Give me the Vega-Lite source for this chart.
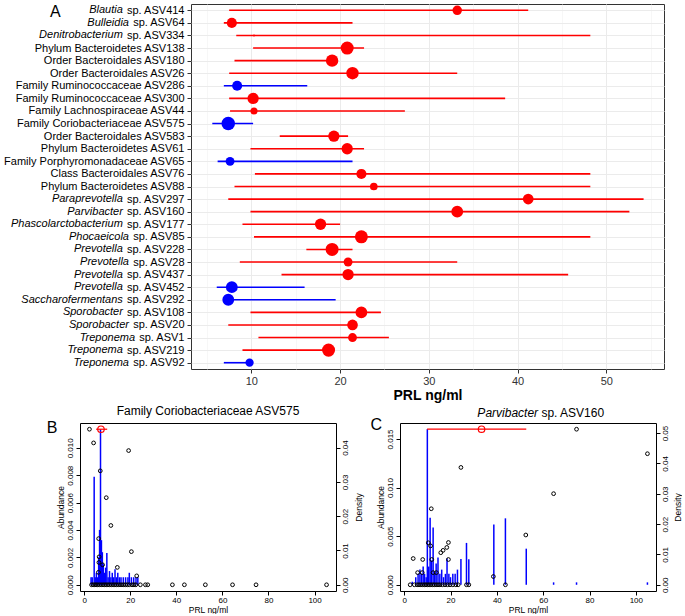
{
  "$schema": "https://vega.github.io/schema/vega-lite/v6.json",
  "padding": {"left": 1, "top": 3, "right": 0, "bottom": 0},
  "config": {
    "font": "Liberation Sans",
    "view": {"stroke": null},
    "axis": {"labelFont": "Liberation Sans", "titleFont": "Liberation Sans", "labelOverlap": false},
    "title": {"font": "Liberation Sans"},
    "text": {"font": "Liberation Sans"}
  },
  "datasets": {
    "taxa": [
      {"taxon": "Blautia sp. ASV414", "genus": "Blautia", "rest": "sp. ASV414", "lo": 7.5, "prl": 33.2, "hi": 41.2, "effect": 0.49, "dir": "pos"},
      {"taxon": "Bulleidia sp. ASV64", "genus": "Bulleidia", "rest": "sp. ASV64", "lo": 6.9, "prl": 7.8, "hi": 21.4, "effect": 0.55, "dir": "pos"},
      {"taxon": "Denitrobacterium sp. ASV334", "genus": "Denitrobacterium", "rest": "sp. ASV334", "lo": 8.3, "prl": 10.3, "hi": 48.2, "effect": 0.02, "dir": "pos"},
      {"taxon": "Phylum Bacteroidetes ASV138", "genus": "", "rest": "Phylum Bacteroidetes ASV138", "lo": 10.2, "prl": 20.8, "hi": 22.7, "effect": 0.92, "dir": "pos"},
      {"taxon": "Order Bacteroidales ASV180", "genus": "", "rest": "Order Bacteroidales ASV180", "lo": 8.1, "prl": 19.1, "hi": 19.3, "effect": 0.84, "dir": "pos"},
      {"taxon": "Order Bacteroidales ASV26", "genus": "", "rest": "Order Bacteroidales ASV26", "lo": 7.5, "prl": 21.4, "hi": 33.2, "effect": 0.84, "dir": "pos"},
      {"taxon": "Family Ruminococcaceae ASV286", "genus": "", "rest": "Family Ruminococcaceae ASV286", "lo": 6.9, "prl": 8.4, "hi": 16.3, "effect": 0.55, "dir": "neg"},
      {"taxon": "Family Ruminococcaceae ASV300", "genus": "", "rest": "Family Ruminococcaceae ASV300", "lo": 7.5, "prl": 10.2, "hi": 38.6, "effect": 0.69, "dir": "pos"},
      {"taxon": "Family Lachnospiraceae ASV44", "genus": "", "rest": "Family Lachnospiraceae ASV44", "lo": 7.6, "prl": 10.3, "hi": 27.3, "effect": 0.27, "dir": "pos"},
      {"taxon": "Family Coriobacteriaceae ASV575", "genus": "", "rest": "Family Coriobacteriaceae ASV575", "lo": 5.6, "prl": 7.4, "hi": 10.2, "effect": 1.0, "dir": "neg"},
      {"taxon": "Order Bacteroidales ASV583", "genus": "", "rest": "Order Bacteroidales ASV583", "lo": 13.2, "prl": 19.3, "hi": 20.9, "effect": 0.69, "dir": "pos"},
      {"taxon": "Phylum Bacteroidetes ASV61", "genus": "", "rest": "Phylum Bacteroidetes ASV61", "lo": 9.9, "prl": 20.8, "hi": 22.7, "effect": 0.69, "dir": "pos"},
      {"taxon": "Family Porphyromonadaceae ASV65", "genus": "", "rest": "Family Porphyromonadaceae ASV65", "lo": 6.2, "prl": 7.6, "hi": 21.4, "effect": 0.43, "dir": "neg"},
      {"taxon": "Class Bacteroidales ASV76", "genus": "", "rest": "Class Bacteroidales ASV76", "lo": 10.4, "prl": 22.4, "hi": 48.2, "effect": 0.55, "dir": "pos"},
      {"taxon": "Phylum Bacteroidetes ASV88", "genus": "", "rest": "Phylum Bacteroidetes ASV88", "lo": 8.1, "prl": 23.8, "hi": 48.2, "effect": 0.32, "dir": "pos"},
      {"taxon": "Paraprevotella sp. ASV297", "genus": "Paraprevotella", "rest": "sp. ASV297", "lo": 7.4, "prl": 41.2, "hi": 54.2, "effect": 0.62, "dir": "pos"},
      {"taxon": "Parvibacter sp. ASV160", "genus": "Parvibacter", "rest": "sp. ASV160", "lo": 9.9, "prl": 33.2, "hi": 52.6, "effect": 0.76, "dir": "pos"},
      {"taxon": "Phascolarctobacterium sp. ASV177", "genus": "Phascolarctobacterium", "rest": "sp. ASV177", "lo": 9.0, "prl": 17.8, "hi": 20.0, "effect": 0.69, "dir": "pos"},
      {"taxon": "Phocaeicola sp. ASV85", "genus": "Phocaeicola", "rest": "sp. ASV85", "lo": 10.3, "prl": 22.4, "hi": 48.2, "effect": 0.92, "dir": "pos"},
      {"taxon": "Prevotella sp. ASV228", "genus": "Prevotella", "rest": "sp. ASV228", "lo": 16.2, "prl": 19.1, "hi": 21.4, "effect": 0.92, "dir": "pos"},
      {"taxon": "Prevotella sp. ASV28", "genus": "Prevotella", "rest": "sp. ASV28", "lo": 8.7, "prl": 20.9, "hi": 33.2, "effect": 0.43, "dir": "pos"},
      {"taxon": "Prevotella sp. ASV437", "genus": "Prevotella", "rest": "sp. ASV437", "lo": 13.4, "prl": 20.9, "hi": 45.7, "effect": 0.69, "dir": "pos"},
      {"taxon": "Prevotella sp. ASV452", "genus": "Prevotella", "rest": "sp. ASV452", "lo": 6.1, "prl": 7.8, "hi": 16.0, "effect": 0.76, "dir": "neg"},
      {"taxon": "Saccharofermentans sp. ASV292", "genus": "Saccharofermentans", "rest": "sp. ASV292", "lo": 7.2, "prl": 7.4, "hi": 19.5, "effect": 0.76, "dir": "neg"},
      {"taxon": "Sporobacter sp. ASV108", "genus": "Sporobacter", "rest": "sp. ASV108", "lo": 9.9, "prl": 22.4, "hi": 24.6, "effect": 0.76, "dir": "pos"},
      {"taxon": "Sporobacter sp. ASV20", "genus": "Sporobacter", "rest": "sp. ASV20", "lo": 7.4, "prl": 21.4, "hi": 21.5, "effect": 0.62, "dir": "pos"},
      {"taxon": "Treponema sp. ASV1", "genus": "Treponema", "rest": "sp. ASV1", "lo": 10.8, "prl": 21.4, "hi": 25.5, "effect": 0.43, "dir": "pos"},
      {"taxon": "Treponema sp. ASV219", "genus": "Treponema", "rest": "sp. ASV219", "lo": 9.0, "prl": 18.7, "hi": 18.8, "effect": 0.92, "dir": "pos"},
      {"taxon": "Treponema sp. ASV92", "genus": "Treponema", "rest": "sp. ASV92", "lo": 6.9, "prl": 9.8, "hi": 9.9, "effect": 0.37, "dir": "neg"}
    ],
    "bPoints": [
      {"prl": 2.3, "abundance": 0.01136}, {"prl": 4.1, "abundance": 0.01036}, {"prl": 19.3, "abundance": 0.0098},
      {"prl": 7.0, "abundance": 0.00832}, {"prl": 9.6, "abundance": 0.00636}, {"prl": 11.6, "abundance": 0.00433},
      {"prl": 6.3, "abundance": 0.00337}, {"prl": 20.5, "abundance": 0.00242}, {"prl": 6.5, "abundance": 0.00204},
      {"prl": 6.4, "abundance": 0.00163}, {"prl": 8.0, "abundance": 0.00146}, {"prl": 14.4, "abundance": 0.00127},
      {"prl": 6.2, "abundance": 0.00091}, {"prl": 22.8, "abundance": 0.00065},
      {"prl": 3.2, "abundance": 0}, {"prl": 3.9, "abundance": 0}, {"prl": 4.6, "abundance": 0}, {"prl": 5.2, "abundance": 0},
      {"prl": 5.8, "abundance": 0}, {"prl": 6.6, "abundance": 0}, {"prl": 7.4, "abundance": 0}, {"prl": 8.2, "abundance": 0},
      {"prl": 8.9, "abundance": 0}, {"prl": 9.6, "abundance": 0}, {"prl": 10.3, "abundance": 0}, {"prl": 11.0, "abundance": 0},
      {"prl": 11.8, "abundance": 0}, {"prl": 12.6, "abundance": 0}, {"prl": 13.3, "abundance": 0}, {"prl": 14.0, "abundance": 0},
      {"prl": 14.8, "abundance": 0}, {"prl": 15.6, "abundance": 0}, {"prl": 16.4, "abundance": 0}, {"prl": 17.2, "abundance": 0},
      {"prl": 18.0, "abundance": 0}, {"prl": 18.8, "abundance": 0}, {"prl": 19.6, "abundance": 0}, {"prl": 20.8, "abundance": 0},
      {"prl": 21.6, "abundance": 0}, {"prl": 22.4, "abundance": 0}, {"prl": 24.4, "abundance": 0}, {"prl": 26.6, "abundance": 0},
      {"prl": 27.6, "abundance": 0}, {"prl": 38.3, "abundance": 0}, {"prl": 43.5, "abundance": 0}, {"prl": 52.6, "abundance": 0},
      {"prl": 64.4, "abundance": 0}, {"prl": 74.6, "abundance": 0}, {"prl": 105.2, "abundance": 0}
    ],
    "bDens": [
      {"prl": 3.0, "density": 0.0022}, {"prl": 3.5, "density": 0.0022}, {"prl": 4.35, "density": 0.0315},
      {"prl": 4.8, "density": 0.0022}, {"prl": 5.3, "density": 0.0035}, {"prl": 5.8, "density": 0.0022},
      {"prl": 6.3, "density": 0.008}, {"prl": 6.7, "density": 0.016}, {"prl": 7.1, "density": 0.0453},
      {"prl": 7.5, "density": 0.013}, {"prl": 7.9, "density": 0.0095}, {"prl": 8.3, "density": 0.006},
      {"prl": 8.8, "density": 0.0035}, {"prl": 9.3, "density": 0.005}, {"prl": 9.85, "density": 0.0093},
      {"prl": 10.4, "density": 0.0022}, {"prl": 11.0, "density": 0.004}, {"prl": 11.6, "density": 0.0022},
      {"prl": 12.2, "density": 0.0035}, {"prl": 12.8, "density": 0.0022}, {"prl": 13.4, "density": 0.0045},
      {"prl": 14.0, "density": 0.0022}, {"prl": 14.6, "density": 0.0035}, {"prl": 15.3, "density": 0.0022},
      {"prl": 16.0, "density": 0.0022}, {"prl": 17.0, "density": 0.0022}, {"prl": 18.0, "density": 0.0022},
      {"prl": 19.0, "density": 0.0022}, {"prl": 19.6, "density": 0.0035}, {"prl": 20.5, "density": 0.0022},
      {"prl": 21.5, "density": 0.0022}, {"prl": 22.5, "density": 0.0022}, {"prl": 23.3, "density": 0.0022}
    ],
    "bRed": [{"lo": 5.2, "hi": 10.0, "prl": 7.3, "abundance": 0.01136}],
    "bLetter": [{"prl": -13.9, "abundance": 0.01143, "label": "B"}],
    "cPoints": [
      {"prl": 74.4, "abundance": 0.016}, {"prl": 105.0, "abundance": 0.01348}, {"prl": 24.5, "abundance": 0.01207},
      {"prl": 64.5, "abundance": 0.00937}, {"prl": 11.7, "abundance": 0.00782}, {"prl": 52.5, "abundance": 0.00512},
      {"prl": 10.4, "abundance": 0.00432}, {"prl": 11.4, "abundance": 0.004}, {"prl": 19.1, "abundance": 0.00435},
      {"prl": 18.4, "abundance": 0.00384}, {"prl": 16.8, "abundance": 0.00354}, {"prl": 15.8, "abundance": 0.0033},
      {"prl": 3.9, "abundance": 0.0027}, {"prl": 8.0, "abundance": 0.0026}, {"prl": 11.9, "abundance": 0.0026},
      {"prl": 19.1, "abundance": 0.0026}, {"prl": 5.8, "abundance": 0.00125}, {"prl": 7.8, "abundance": 0.00125},
      {"prl": 12.5, "abundance": 0.00125}, {"prl": 13.9, "abundance": 0.00125}, {"prl": 38.5, "abundance": 0.00085},
      {"prl": 2.6, "abundance": 0}, {"prl": 4.4, "abundance": 0}, {"prl": 5.6, "abundance": 0}, {"prl": 6.4, "abundance": 0},
      {"prl": 7.2, "abundance": 0}, {"prl": 8.0, "abundance": 0}, {"prl": 8.8, "abundance": 0}, {"prl": 9.4, "abundance": 0},
      {"prl": 10.1, "abundance": 0}, {"prl": 10.8, "abundance": 0}, {"prl": 11.5, "abundance": 0}, {"prl": 12.3, "abundance": 0},
      {"prl": 13.0, "abundance": 0}, {"prl": 13.8, "abundance": 0}, {"prl": 14.6, "abundance": 0}, {"prl": 15.4, "abundance": 0},
      {"prl": 16.5, "abundance": 0}, {"prl": 17.6, "abundance": 0}, {"prl": 18.7, "abundance": 0}, {"prl": 19.8, "abundance": 0},
      {"prl": 21.0, "abundance": 0}, {"prl": 22.3, "abundance": 0}, {"prl": 23.3, "abundance": 0}, {"prl": 26.9, "abundance": 0},
      {"prl": 27.9, "abundance": 0}, {"prl": 43.7, "abundance": 0}
    ],
    "cDens": [
      {"prl": 3.5, "density": 0.001}, {"prl": 5.0, "density": 0.0025}, {"prl": 6.0, "density": 0.0036},
      {"prl": 6.8, "density": 0.005}, {"prl": 7.5, "density": 0.0036}, {"prl": 8.2, "density": 0.006},
      {"prl": 8.8, "density": 0.0036}, {"prl": 9.5, "density": 0.0025}, {"prl": 10.0, "density": 0.0513},
      {"prl": 10.6, "density": 0.006}, {"prl": 11.2, "density": 0.0221}, {"prl": 11.8, "density": 0.008},
      {"prl": 12.5, "density": 0.0189}, {"prl": 13.2, "density": 0.004}, {"prl": 13.8, "density": 0.007},
      {"prl": 14.6, "density": 0.009}, {"prl": 15.4, "density": 0.0036}, {"prl": 16.2, "density": 0.005},
      {"prl": 17.0, "density": 0.0025}, {"prl": 17.8, "density": 0.0036}, {"prl": 18.5, "density": 0.0087},
      {"prl": 19.3, "density": 0.0036}, {"prl": 20.0, "density": 0.0025}, {"prl": 21.0, "density": 0.0036},
      {"prl": 22.0, "density": 0.0036}, {"prl": 23.0, "density": 0.005}, {"prl": 24.5, "density": 0.0085},
      {"prl": 26.9, "density": 0.0138}, {"prl": 27.9, "density": 0.0084}, {"prl": 38.7, "density": 0.0199},
      {"prl": 43.7, "density": 0.0219}, {"prl": 52.7, "density": 0.0119}, {"prl": 64.5, "density": 0.0008},
      {"prl": 74.4, "density": 0.0008}, {"prl": 105.0, "density": 0.0008}
    ],
    "cRed": [{"lo": 9.9, "hi": 52.7, "prl": 33.4, "abundance": 0.016}],
    "cLetter": [{"prl": -12.0, "abundance": 0.01641, "label": "C"}],
    "cTitle": [{"prl": 57.8, "abundance": 0.01765, "genus": "Parvibacter", "rest": "sp. ASV160"}]
  },
  "spacing": 1,
  "vconcat": [
    {
      "spacing": 0,
      "hconcat": [
        {
          "width": 1, "height": 365,
          "data": {"values": []},
          "mark": "point",
          "encoding": {}
        },
        {
          "width": 473,
          "height": 365,
          "view": {"stroke": "#333333", "strokeWidth": 1},
          "data": {"name": "taxa"},
          "encoding": {
            "y": {
              "field": "taxon", "type": "nominal", "sort": null,
              "scale": {"type": "point", "padding": 0.5},
              "axis": {
                "title": null,
                "labelExpr": "indexof(datum.value, ' sp. ') >= 0 ? substring(datum.value, indexof(datum.value, ' sp. ') + 1) : datum.value",
                "labelFontSize": 11, "labelColor": "black", "labelPadding": 3, "labelLimit": 400,
                "tickSize": 4, "tickColor": "#333333", "domain": false,
                "grid": true, "gridColor": "#EBEBEB", "gridWidth": 1
              }
            }
          },
          "layer": [
            {
              "mark": {"type": "rule", "strokeWidth": 1.6},
              "encoding": {
                "x": {
                  "field": "lo", "type": "quantitative", "title": "PRL ng/ml",
                  "scale": {"domain": [3.2, 56.5], "nice": false, "zero": false},
                  "axis": {
                    "values": [5, 10, 15, 20, 25, 30, 35, 40, 45, 50, 55],
                    "labelExpr": "datum.value % 10 === 0 ? datum.label : ''",
                    "labelFontSize": 11, "labelColor": "#333333", "labelPadding": 2,
                    "tickSize": 4, "tickColor": "#333333",
                    "tickOpacity": {"condition": {"test": "datum.value % 10 === 0", "value": 1}, "value": 0},
                    "domain": false, "grid": true,
                    "gridColor": {"condition": {"test": "datum.value % 10 === 0", "value": "#EBEBEB"}, "value": "#F4F4F4"},
                    "gridWidth": {"condition": {"test": "datum.value % 10 === 0", "value": 1}, "value": 0.7},
                    "titleFontSize": 14, "titleFontWeight": "bold", "titleColor": "black", "titlePadding": 2
                  }
                },
                "x2": {"field": "hi"},
                "color": {"field": "dir", "type": "nominal", "scale": {"domain": ["pos", "neg"], "range": ["#FF0000", "#0000FF"]}, "legend": null}
              }
            },
            {
              "mark": {"type": "circle", "opacity": 1},
              "encoding": {
                "x": {"field": "prl", "type": "quantitative", "title": "PRL ng/ml"},
                "size": {"field": "effect", "type": "quantitative", "scale": {"domain": [0, 1], "range": [0, 184], "zero": true}, "legend": null},
                "color": {"field": "dir", "type": "nominal", "legend": null}
              }
            },
            {
              "transform": [{"filter": "datum.genus != ''"}],
              "mark": {
                "type": "text", "align": "right", "baseline": "middle", "fontStyle": "italic",
                "fontSize": 11, "color": "black",
                "dx": {"expr": "-49.8 - 6.116 * (length(datum.rest) - 7)"}
              },
              "encoding": {
                "x": {"datum": 3.2},
                "text": {"field": "genus"}
              }
            },
            {
              "data": {"values": [{}]},
              "mark": {"type": "text", "text": "A", "fontSize": 16, "align": "center", "baseline": "middle", "color": "black", "dy": 2},
              "encoding": {"x": {"datum": -12.1}, "y": {"datum": "Blautia sp. ASV414"}}
            }
          ]
        }
      ]
    },
    {
      "spacing": 7,
      "hconcat": [
        {
          "width": 38, "height": 168,
          "data": {"values": []},
          "mark": "point",
          "encoding": {}
        },
        {
          "width": 256, "height": 168,
          "view": {"stroke": "black", "strokeWidth": 1},
          "title": {"text": "Family Coriobacteriaceae ASV575", "fontSize": 12, "fontWeight": "normal", "color": "black", "offset": 2, "frame": "group"},
          "layer": [
            {
              "data": {"name": "bDens"},
              "mark": {"type": "rule", "color": "#0000FF", "strokeWidth": 1.5},
              "encoding": {
                "x": {"field": "prl", "type": "quantitative", "title": "PRL ng/ml",
                      "scale": {"domain": [-1.8, 109.3], "nice": false, "zero": false},
                      "axis": {"values": [0, 20, 40, 60, 80, 100], "format": "d", "labelFontSize": 8, "labelColor": "black", "tickColor": "black", "tickSize": 4, "labelPadding": 1, "domain": false, "grid": false, "titleFontSize": 8.5, "titleFontWeight": "normal", "titleColor": "black", "titlePadding": 1}},
                "y": {"field": "density", "type": "quantitative", "title": "Density",
                      "scale": {"domain": [-0.00181, 0.04715], "nice": false, "zero": false},
                      "axis": {"orient": "right", "values": [0, 0.01, 0.02, 0.03, 0.04], "format": ".2f", "labelAngle": 270, "labelOverlap": false, "labelFontSize": 8, "labelColor": "black", "tickColor": "black", "tickSize": 4, "labelPadding": 1, "domain": false, "grid": false, "titleFontSize": 8.5, "titleFontWeight": "normal", "titleColor": "black", "titleAngle": 270, "titleBaseline": "top", "titlePadding": 5}},
                "y2": {"datum": 0}
              }
            },
            {
              "encoding": {
                "x": {"field": "prl", "type": "quantitative", "title": "PRL ng/ml"},
                "y": {"field": "abundance", "type": "quantitative", "title": "Abundance",
                      "scale": {"domain": [-0.000454, 0.011814], "nice": false, "zero": false},
                      "axis": {"orient": "left", "values": [0, 0.002, 0.004, 0.006, 0.008, 0.01], "format": ".3f", "labelAngle": 270, "labelOverlap": false, "labelSeparation": -30, "labelFontSize": 8, "labelColor": "black", "tickColor": "black", "tickSize": 4, "labelPadding": 2, "domain": false, "grid": false, "titleFontSize": 8.5, "titleFontWeight": "normal", "titleColor": "black", "titlePadding": 1}}
              },
              "layer": [
                {
                  "data": {"name": "bPoints"},
                  "mark": {"type": "point", "shape": "circle", "filled": false, "color": "black", "size": 14, "strokeWidth": 1, "opacity": 1}
                },
                {
                  "data": {"name": "bRed"},
                  "mark": {"type": "rule", "color": "#FF0000", "strokeWidth": 1.2},
                  "encoding": {
                    "x": {"field": "lo", "type": "quantitative", "title": "PRL ng/ml"},
                    "x2": {"field": "hi"}
                  }
                },
                {
                  "data": {"name": "bRed"},
                  "mark": {"type": "point", "shape": "circle", "filled": false, "color": "#FF0000", "size": 42, "strokeWidth": 1.2, "opacity": 1}
                },
                {
                  "data": {"name": "bLetter"},
                  "mark": {"type": "text", "fontSize": 16, "align": "center", "baseline": "middle", "color": "black"},
                  "encoding": {"text": {"field": "label"}}
                }
              ]
            }
          ],
          "resolve": {"scale": {"y": "independent"}}
        },
        {
          "width": 256, "height": 168,
          "view": {"stroke": "black", "strokeWidth": 1},
          "layer": [
            {
              "data": {"name": "cDens"},
              "mark": {"type": "rule", "color": "#0000FF", "strokeWidth": 1.5},
              "encoding": {
                "x": {"field": "prl", "type": "quantitative", "title": "PRL ng/ml",
                      "scale": {"domain": [-1.8, 108.7], "nice": false, "zero": false},
                      "axis": {"values": [0, 20, 40, 60, 80, 100], "format": "d", "labelFontSize": 8, "labelColor": "black", "tickColor": "black", "tickSize": 4, "labelPadding": 1, "domain": false, "grid": false, "titleFontSize": 8.5, "titleFontWeight": "normal", "titleColor": "black", "titlePadding": 1}},
                "y": {"field": "density", "type": "quantitative", "title": "Density",
                      "scale": {"domain": [-0.00205, 0.05332], "nice": false, "zero": false},
                      "axis": {"orient": "right", "values": [0, 0.01, 0.02, 0.03, 0.04, 0.05], "format": ".2f", "labelAngle": 270, "labelOverlap": false, "labelFontSize": 8, "labelColor": "black", "tickColor": "black", "tickSize": 4, "labelPadding": 1, "domain": false, "grid": false, "titleFontSize": 8.5, "titleFontWeight": "normal", "titleColor": "black", "titleAngle": 270, "titleBaseline": "top", "titlePadding": 4}},
                "y2": {"datum": 0}
              }
            },
            {
              "encoding": {
                "x": {"field": "prl", "type": "quantitative", "title": "PRL ng/ml"},
                "y": {"field": "abundance", "type": "quantitative", "title": "Abundance",
                      "scale": {"domain": [-0.00064, 0.01664], "nice": false, "zero": false},
                      "axis": {"orient": "left", "values": [0, 0.005, 0.01, 0.015], "format": ".3f", "labelAngle": 270, "labelOverlap": false, "labelFontSize": 8, "labelColor": "black", "tickColor": "black", "tickSize": 4, "labelPadding": 2, "domain": false, "grid": false, "titleFontSize": 8.5, "titleFontWeight": "normal", "titleColor": "black", "titlePadding": 1}}
              },
              "layer": [
                {
                  "data": {"name": "cPoints"},
                  "mark": {"type": "point", "shape": "circle", "filled": false, "color": "black", "size": 14, "strokeWidth": 1, "opacity": 1}
                },
                {
                  "data": {"name": "cRed"},
                  "mark": {"type": "rule", "color": "#FF0000", "strokeWidth": 1.2},
                  "encoding": {
                    "x": {"field": "lo", "type": "quantitative", "title": "PRL ng/ml"},
                    "x2": {"field": "hi"}
                  }
                },
                {
                  "data": {"name": "cRed"},
                  "mark": {"type": "point", "shape": "circle", "filled": false, "color": "#FF0000", "size": 42, "strokeWidth": 1.2, "opacity": 1}
                },
                {
                  "data": {"name": "cLetter"},
                  "mark": {"type": "text", "fontSize": 16, "align": "center", "baseline": "middle", "color": "black"},
                  "encoding": {"text": {"field": "label"}}
                },
                {
                  "data": {"name": "cTitle"},
                  "mark": {"type": "text", "fontSize": 12, "fontStyle": "italic", "align": "right", "baseline": "middle", "color": "black"},
                  "encoding": {"text": {"field": "genus"}}
                },
                {
                  "data": {"name": "cTitle"},
                  "mark": {"type": "text", "fontSize": 12, "align": "left", "baseline": "middle", "color": "black", "dx": 3.3},
                  "encoding": {"text": {"field": "rest"}}
                }
              ]
            }
          ],
          "resolve": {"scale": {"y": "independent"}}
        }
      ]
    }
  ]
}
